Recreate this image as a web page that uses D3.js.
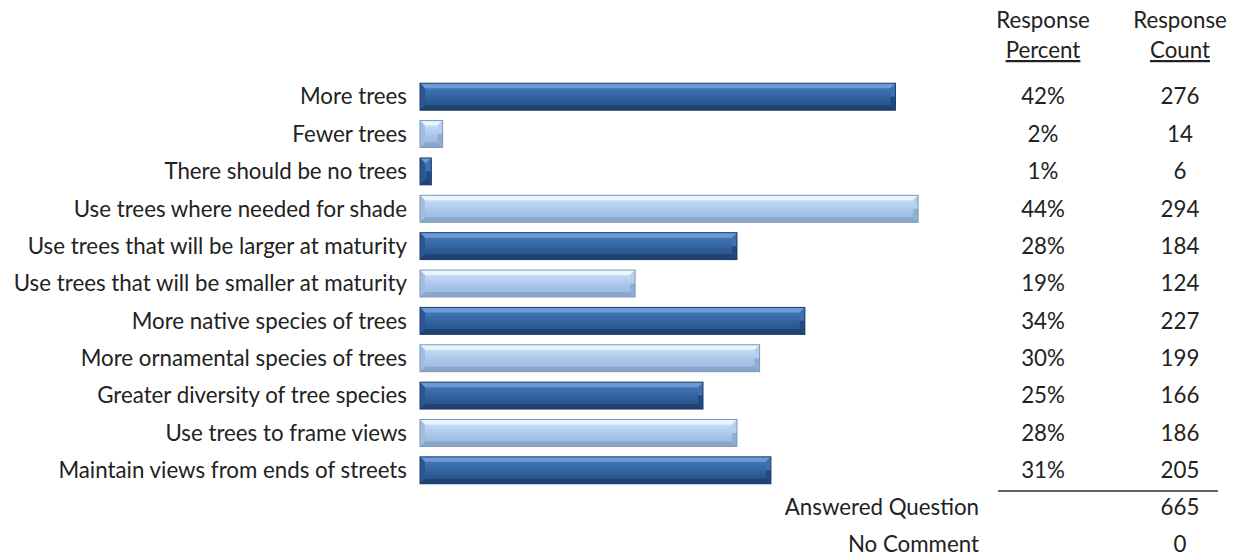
<!DOCTYPE html>
<html><head><meta charset="utf-8">
<script src="https://cdn.jsdelivr.net/npm/d3@7"></script>
<style>body{margin:0;background:#fff;} text{font-family:Lato,"Open Sans",sans-serif;fill:#222;}</style>
</head><body>
<svg id="c" width="1237" height="556"></svg>
<script>
const categories = ["More trees","Fewer trees","There should be no trees","Use trees where needed for shade","Use trees that will be larger at maturity","Use trees that will be smaller at maturity","More native species of trees","More ornamental species of trees","Greater diversity of tree species","Use trees to frame views","Maintain views from ends of streets"];
const percents = [42,2,1,44,28,19,34,30,25,28,31];
const counts = [276,14,6,294,184,124,227,199,166,186,205];
const answered = 665;
const noComment = 0;
const headers = [["Response","Percent"],["Response","Count"]];

const FS = 22.3;
const svg = d3.select("#c");
const defs = svg.append("defs");
function grad(id, stops){
  const g = defs.append("linearGradient").attr("id",id).attr("x1",0).attr("x2",0).attr("y1",0).attr("y2",1);
  stops.forEach(s=>g.append("stop").attr("offset",s[0]).attr("stop-color",s[1]));
}
grad("dark",[[0,"#4f80bf"],[0.3,"#3d6ead"],[0.6,"#2f5e9b"],[1,"#254d85"]]);
grad("light",[[0,"#d4e8fc"],[0.3,"#bcd5f2"],[0.6,"#a8c3e7"],[1,"#99b5dc"]]);

const y = d3.scaleBand().domain(categories).range([78,489]).paddingInner(0.28).paddingOuter(0.14);
const x = d3.scaleLinear().domain([0,50]).range([420,986]);

const rows = svg.append("g").selectAll("g").data(categories).join("g");
rows.append("text").attr("x",407).attr("y",d=>y(d)+y.bandwidth()/2).attr("dy","0.35em")
  .attr("text-anchor","end").attr("font-size",FS).text(d=>d);

const bevel = 5;
rows.each(function(d,i){
  const g = d3.select(this);
  const x0 = x(0), x1 = x(percents[i]), y0 = y(d), h = y.bandwidth();
  const dark = i%2===0;
  g.append("rect").attr("x",x0).attr("y",y0).attr("width",x1-x0).attr("height",h)
    .attr("fill",`url(#${dark?"dark":"light"})`);
  const b = Math.min(bevel, (x1-x0)/2);
  const ym = y0+h/2;
  // top bevel
  g.append("path").attr("d",`M${x0},${y0}L${x1},${y0}L${x1-b},${y0+b}L${x0+b},${y0+b}Z`)
    .attr("fill",dark?"#6d9bd6":"#eaf6ff");
  // bottom bevel
  g.append("path").attr("d",`M${x0},${y0+h}L${x1},${y0+h}L${x1-b},${y0+h-b}L${x0+b},${y0+h-b}Z`)
    .attr("fill",dark?"#1e4272":"#8aa6cc");
  // left bevel
  g.append("path").attr("d",`M${x0},${y0}L${x0+b},${y0+b}L${x0+b},${y0+h-b}L${x0},${y0+h}Z`)
    .attr("fill",dark?"#2a5591":"#a2bee3");
  // right end bevel (upper light, lower dark)
  g.append("path").attr("d",`M${x1},${y0}L${x1},${ym}L${x1-b},${ym}L${x1-b},${y0+b}Z`)
    .attr("fill",dark?"#3f71b1":"#b6cfee");
  g.append("path").attr("d",`M${x1},${ym}L${x1},${y0+h}L${x1-b},${y0+h-b}L${x1-b},${ym}Z`)
    .attr("fill",dark?"#234a80":"#90aed5");
  g.append("rect").attr("x",x0).attr("y",y0).attr("width",x1-x0).attr("height",h)
    .attr("fill","none").attr("stroke",dark?"#1d3c66":"#7e96ba").attr("stroke-width",1);
  g.append("text").attr("x",1043).attr("y",y0+h/2).attr("dy","0.35em").attr("text-anchor","middle").attr("font-size",FS).text(percents[i]+"%");
  g.append("text").attr("x",1180).attr("y",y0+h/2).attr("dy","0.35em").attr("text-anchor","middle").attr("font-size",FS).text(counts[i]);
});

const hx = [1043,1180];
headers.forEach((h,i)=>{
  svg.append("text").attr("x",hx[i]).attr("y",28).attr("text-anchor","middle").attr("font-size",FS).text(h[0]);
  svg.append("text").attr("x",hx[i]).attr("y",58).attr("text-anchor","middle").attr("font-size",FS)
    .attr("text-decoration","underline").text(h[1]);
});

svg.append("line").attr("x1",998).attr("x2",1218).attr("y1",491).attr("y2",491).attr("stroke","#333").attr("stroke-width",1.5);
svg.append("text").attr("x",979).attr("y",507).attr("dy","0.35em").attr("text-anchor","end").attr("font-size",FS).text("Answered Question");
svg.append("text").attr("x",1180).attr("y",507).attr("dy","0.35em").attr("text-anchor","middle").attr("font-size",FS).text(answered);
svg.append("text").attr("x",979).attr("y",544).attr("dy","0.35em").attr("text-anchor","end").attr("font-size",FS).text("No Comment");
svg.append("text").attr("x",1180).attr("y",544).attr("dy","0.35em").attr("text-anchor","middle").attr("font-size",FS).text(noComment);
</script>
</body></html>
